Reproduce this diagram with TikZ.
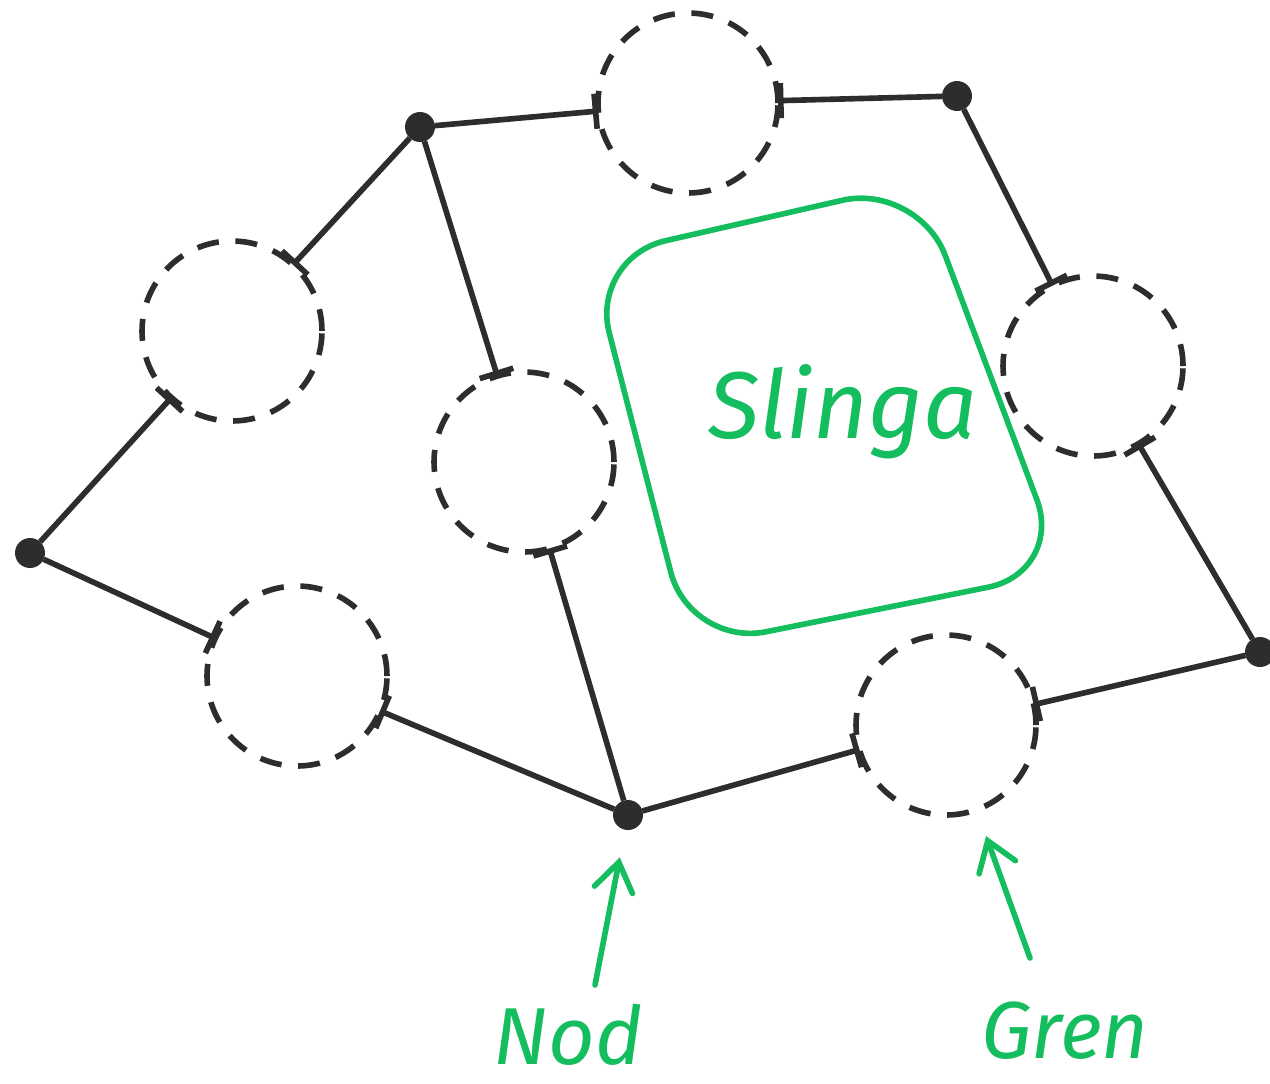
\documentclass[tikz,border=0pt]{standalone}
\usepackage{fontspec}
\newfontfamily\hand{Fira Sans}
\usetikzlibrary{arrows.meta}
\definecolor{ink}{RGB}{45,45,45}
\definecolor{loopgreen}{RGB}{20,190,95}
\begin{document}
\begin{tikzpicture}[x=0.02cm,y=-0.02cm,
  nodedot/.style={circle,fill=ink,draw=none,minimum size=0.6cm,inner sep=0pt,outer sep=0pt},
  branch/.style={circle,draw=ink,line width=3.2pt,dash pattern=on 12.5pt off 9.5pt,minimum size=3.6cm,inner sep=0pt,outer sep=0pt},
  wire/.style={draw=ink,line width=3.2pt,-{Bar[width=20pt]}},
  loopline/.style={draw=loopgreen,line width=3.2pt,rounded corners=44pt},
  pointer/.style={draw=loopgreen,line width=3.2pt,line cap=round,-{Straight Barb[length=16pt,width=22pt,line cap=round]},shorten >=16pt},
  handtext/.style={text=loopgreen,font=\hand\itshape\fontsize{46}{54}\selectfont,inner sep=0pt}
]
\useasboundingbox[fill=white] (0,0) rectangle (1270,1083);

% junction nodes
\node[nodedot] (A) at (420,127) {};
\node[nodedot] (B) at (957,96) {};
\node[nodedot] (C) at (30,553) {};
\node[nodedot] (D) at (628,815) {};
\node[nodedot] (E) at (1260,652) {};

% branches
\node[branch] (T)  at (688,103) {};
\node[branch] (L1) at (232,331) {};
\node[branch] (M)  at (524,462) {};
\node[branch] (R)  at (1093,366) {};
\node[branch] (L2) at (297,676) {};
\node[branch] (G)  at (946,725) {};

% wires
\draw[wire] (A) -- (T);
\draw[wire] (B) -- (T);
\draw[wire] (A) -- (L1);
\draw[wire] (C) -- (L1);
\draw[wire] (A) -- (M);
\draw[wire] (D) -- (M);
\draw[wire] (C) -- (L2);
\draw[wire] (D) -- (L2);
\draw[wire] (D) -- (G);
\draw[wire] (E) -- (G);
\draw[wire] (B) -- (R);
\draw[wire] (E) -- (R);

% loop
\draw[loopline] (590,258) -- (918,183) -- (1064,572) -- (690,647) -- cycle;
\node[handtext,anchor=base,font=\hand\itshape\fontsize{54}{60}\selectfont] (slinga) at (843,438) {Slinga};

% labels and pointers
\node[handtext,anchor=base] (nod) at (568,1064) {Nod};
\node[handtext,anchor=base] (gren) at (1065,1058) {Gren};
\coordinate (nodtail) at (595,985);
\coordinate (grentail) at (1030,958);
\draw[pointer] (nodtail) -- (D);
\draw[pointer] (grentail) -- (G);
\end{tikzpicture}
\end{document}
